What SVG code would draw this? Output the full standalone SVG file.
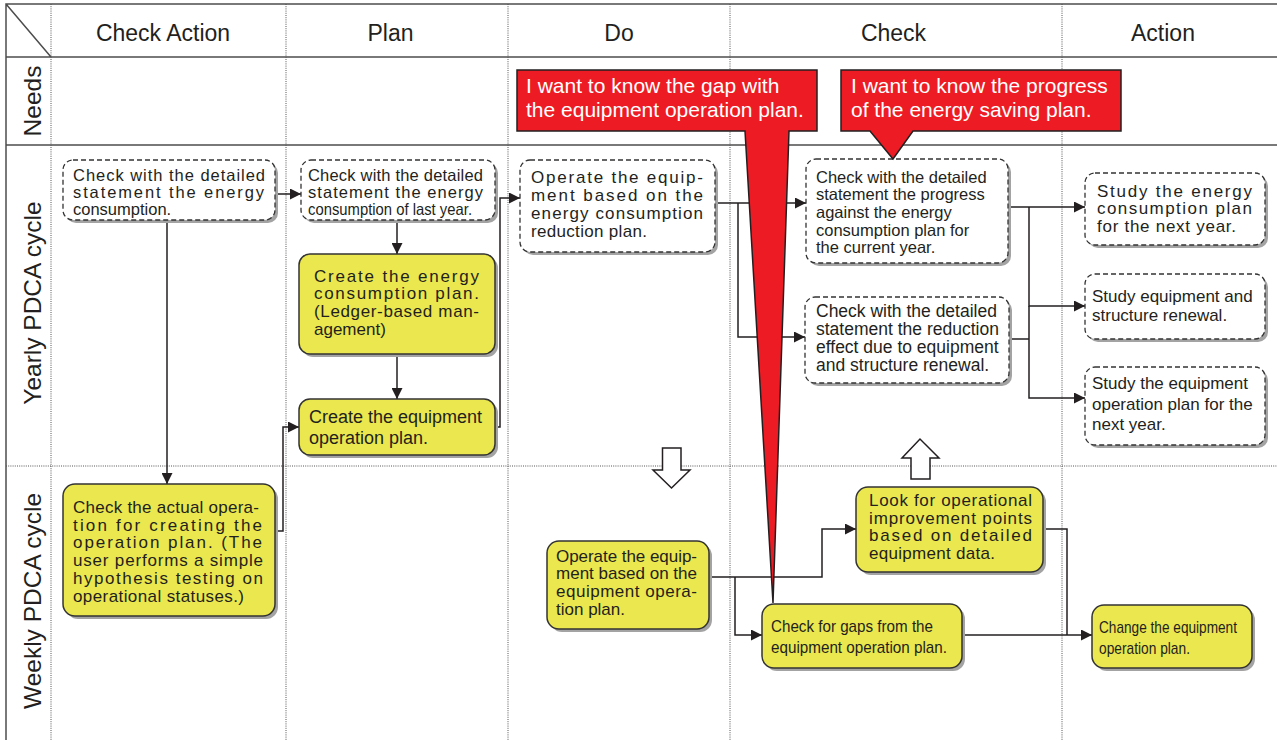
<svg xmlns="http://www.w3.org/2000/svg" width="1277" height="740" viewBox="0 0 1277 740">
<defs>
<style>
.bg{fill:#fff}
.gl{stroke:#4d4d4d;stroke-width:1.5;fill:none}
.gd{stroke:#555;stroke-width:1;stroke-dasharray:1 1.2;fill:none}
.hd{font-family:"Liberation Sans",Arial,sans-serif;font-size:23px;fill:#231f20;text-anchor:middle}
.rl{font-family:"Liberation Sans",Arial,sans-serif;font-size:24.5px;fill:#231f20;text-anchor:middle}
.t{font-family:"Liberation Sans",Arial,sans-serif;font-size:17px;fill:#231f20}
.ts{font-family:"Liberation Sans",Arial,sans-serif;font-size:16px;fill:#231f20}
.t16{font-family:"Liberation Sans",Arial,sans-serif;font-size:16.5px;fill:#231f20}
.t175{font-family:"Liberation Sans",Arial,sans-serif;font-size:17.5px;fill:#231f20}
.t18{font-family:"Liberation Sans",Arial,sans-serif;font-size:18px;fill:#231f20}
.ct{font-family:"Liberation Sans",Arial,sans-serif;font-size:21px;fill:#fff}
.sh{fill:#a3a3a3}
.dn{fill:#fff;stroke:#333;stroke-width:1.3;stroke-dasharray:5 3}
.yn{fill:#ebe74e;stroke:#333;stroke-width:1.5}
.c{fill:none;stroke:#231f20;stroke-width:1.5}
.ba{fill:#fff;stroke:#231f20;stroke-width:1.5}
.co{fill:#ed1c24;stroke:#231f20;stroke-width:1.5;stroke-linejoin:miter}
</style>
<marker id="ah" markerWidth="11" markerHeight="11" refX="11" refY="5.5" orient="auto" markerUnits="userSpaceOnUse">
<path d="M0,0 L11,5.5 L0,11 Z" fill="#231f20"/>
</marker>
</defs>
<rect class="bg" x="0" y="0" width="1277" height="740"/>
<g id="grid">
<path class="gd" d="M51,4 V740 M286,4 V740 M508,4 V740 M730,4 V740 M1062,4 V740 M6,466 H1277"/>
<path class="gl" d="M1277,4 H6 V740 M6,57 H1277 M6,145 H1277 M6,4 L51,57"/>
<text class="hd" x="163" y="41">Check Action</text>
<text class="hd" x="390.5" y="41">Plan</text>
<text class="hd" x="619" y="41">Do</text>
<text class="hd" x="893.5" y="41">Check</text>
<text class="hd" x="1163" y="41">Action</text>
<text class="rl" transform="translate(41,101) rotate(-90)">Needs</text>
<text class="rl" transform="translate(41,303) rotate(-90)">Yearly PDCA cycle</text>
<text class="rl" transform="translate(41,601) rotate(-90)">Weekly PDCA cycle</text>
</g>
<g id="connectors">
<path class="c" d="M275,194 H301" marker-end="url(#ah)"/>
<path class="c" d="M167,220 V484" marker-end="url(#ah)"/>
<path class="c" d="M397,220 V254" marker-end="url(#ah)"/>
<path class="c" d="M397,354 V399" marker-end="url(#ah)"/>
<path class="c" d="M495,427 H500 V198 H520" marker-end="url(#ah)"/>
<path class="c" d="M275,531 H283 V427 H299" marker-end="url(#ah)"/>
<path class="c" d="M715,203 H806" marker-end="url(#ah)"/>
<path class="c" d="M738,203 V337 H805" marker-end="url(#ah)"/>
<path class="c" d="M1008,207 H1085" marker-end="url(#ah)"/>
<path class="c" d="M1029,207 V306 H1085" marker-end="url(#ah)"/>
<path class="c" d="M1029,306 V398 H1085" marker-end="url(#ah)"/>
<path class="c" d="M1009,339 H1029"/>
<path class="c" d="M709,577 H822 V529 H856" marker-end="url(#ah)"/>
<path class="c" d="M735,577 V635 H762" marker-end="url(#ah)"/>
<path class="c" d="M962,635 H1092" marker-end="url(#ah)"/>
<path class="c" d="M1043,529 H1067 V635"/>
</g>
<g id="blockArrows">
<path class="ba" d="M662.5,448 H681 V470 H690 L671.5,488 L653,470 H662.5 Z"/>
<path class="ba" d="M911,479 V458 H902 L920,439 L939,458 H930 V479 Z"/>
</g>
<g id="nodeA">
<rect class="sh" x="66" y="163" width="212" height="60" rx="10"/>
<rect class="dn" x="63" y="160" width="212" height="60" rx="10"/>
<text class="t16" x="73" y="181" textLength="192" lengthAdjust="spacing">Check with the detailed</text>
<text class="t16" x="73" y="198" textLength="191" lengthAdjust="spacing">statement the energy</text>
<text class="t16" x="73" y="215">consumption.</text>
</g>
<g id="nodeB">
<rect class="sh" x="304" y="163" width="194" height="60" rx="10"/>
<rect class="dn" x="301" y="160" width="194" height="60" rx="10"/>
<text class="t16" x="308" y="181" textLength="175" lengthAdjust="spacing">Check with the detailed</text>
<text class="t16" x="308" y="198" textLength="175" lengthAdjust="spacing">statement the energy</text>
<text class="t16" x="308" y="215" textLength="164" lengthAdjust="spacingAndGlyphs">consumption of last year.</text>
</g>
<g id="nodeC">
<rect class="sh" x="302" y="257" width="196" height="100" rx="11"/>
<rect class="yn" x="299" y="254" width="196" height="100" rx="11"/>
<text class="t" x="314" y="282" textLength="165" lengthAdjust="spacing">Create the energy</text>
<text class="t" x="314" y="299" textLength="165" lengthAdjust="spacing">consumption plan.</text>
<text class="t" x="314" y="317" textLength="165" lengthAdjust="spacing">(Ledger-based man-</text>
<text class="t" x="314" y="335">agement)</text>
</g>
<g id="nodeD">
<rect class="sh" x="302" y="402" width="196" height="56" rx="11"/>
<rect class="yn" x="299" y="399" width="196" height="56" rx="11"/>
<text class="t18" x="309" y="423" textLength="173" lengthAdjust="spacing">Create the equipment</text>
<text class="t18" x="309" y="444">operation plan.</text>
</g>
<g id="nodeE">
<rect class="sh" x="523" y="163" width="195" height="92" rx="10"/>
<rect class="dn" x="520" y="160" width="195" height="92" rx="10"/>
<text class="t" x="531" y="183" textLength="172" lengthAdjust="spacing">Operate the equip-</text>
<text class="t" x="531" y="201" textLength="172" lengthAdjust="spacing">ment based on the</text>
<text class="t" x="531" y="219" textLength="172" lengthAdjust="spacing">energy consumption</text>
<text class="t" x="531" y="237" textLength="116" lengthAdjust="spacing">reduction plan.</text>
</g>
<g id="nodeF">
<rect class="sh" x="809" y="162" width="202" height="104" rx="10"/>
<rect class="dn" x="806" y="159" width="202" height="104" rx="10"/>
<text class="t16" x="816" y="183">Check with the detailed</text>
<text class="t16" x="816" y="200">statement the progress</text>
<text class="t16" x="816" y="218">against the energy</text>
<text class="t16" x="816" y="235.5">consumption plan for</text>
<text class="t16" x="816" y="253">the current year.</text>
</g>
<g id="nodeG">
<rect class="sh" x="808" y="300" width="204" height="86" rx="10"/>
<rect class="dn" x="805" y="297" width="204" height="86" rx="10"/>
<text class="t175" x="816" y="317">Check with the detailed</text>
<text class="t175" x="816" y="335">statement the reduction</text>
<text class="t175" x="816" y="353">effect due to equipment</text>
<text class="t175" x="816" y="371">and structure renewal.</text>
</g>
<g id="nodeH">
<rect class="sh" x="1088" y="176" width="180" height="72" rx="10"/>
<rect class="dn" x="1085" y="173" width="180" height="72" rx="10"/>
<text class="t" x="1097" y="197" textLength="155" lengthAdjust="spacing">Study the energy</text>
<text class="t" x="1097" y="214" textLength="155" lengthAdjust="spacing">consumption plan</text>
<text class="t" x="1097" y="232" textLength="139" lengthAdjust="spacing">for the next year.</text>
</g>
<g id="nodeI">
<rect class="sh" x="1088" y="277" width="180" height="65" rx="10"/>
<rect class="dn" x="1085" y="274" width="180" height="65" rx="10"/>
<text class="t" x="1092" y="302">Study equipment and</text>
<text class="t" x="1092" y="321">structure renewal.</text>
</g>
<g id="nodeJ">
<rect class="sh" x="1088" y="370" width="180" height="78" rx="10"/>
<rect class="dn" x="1085" y="367" width="180" height="78" rx="10"/>
<text class="t" x="1092" y="389">Study the equipment</text>
<text class="t" x="1092" y="410">operation plan for the</text>
<text class="t" x="1092" y="430">next year.</text>
</g>
<g id="nodeK">
<rect class="sh" x="66" y="487" width="212" height="132" rx="12"/>
<rect class="yn" x="63" y="484" width="212" height="132" rx="12"/>
<text class="t" x="73" y="513" textLength="186" lengthAdjust="spacing">Check the actual opera-</text>
<text class="t" x="73" y="531" textLength="189" lengthAdjust="spacing">tion for creating the</text>
<text class="t" x="73" y="548" textLength="189" lengthAdjust="spacing">operation plan. (The</text>
<text class="t" x="73" y="566" textLength="190" lengthAdjust="spacing">user performs a simple</text>
<text class="t" x="73" y="584" textLength="190" lengthAdjust="spacing">hypothesis testing on</text>
<text class="t" x="73" y="602" textLength="171" lengthAdjust="spacing">operational statuses.)</text>
</g>
<g id="nodeL">
<rect class="sh" x="550" y="544" width="162" height="88" rx="12"/>
<rect class="yn" x="547" y="541" width="162" height="88" rx="12"/>
<text class="t" x="556" y="562" textLength="141" lengthAdjust="spacing">Operate the equip-</text>
<text class="t" x="556" y="579" textLength="141" lengthAdjust="spacing">ment based on the</text>
<text class="t" x="556" y="597" textLength="141" lengthAdjust="spacing">equipment opera-</text>
<text class="t" x="556" y="615">tion plan.</text>
</g>
<g id="nodeM">
<rect class="sh" x="859" y="490" width="187" height="85" rx="12"/>
<rect class="yn" x="856" y="487" width="187" height="85" rx="12"/>
<text class="t" x="869" y="506" textLength="163" lengthAdjust="spacing">Look for operational</text>
<text class="t" x="869" y="524" textLength="163" lengthAdjust="spacing">improvement points</text>
<text class="t" x="869" y="541" textLength="163" lengthAdjust="spacing">based on detailed</text>
<text class="t" x="869" y="559" textLength="126" lengthAdjust="spacing">equipment data.</text>
</g>
<g id="nodeN">
<rect class="sh" x="765" y="607" width="200" height="64" rx="12"/>
<rect class="yn" x="762" y="604" width="200" height="64" rx="12"/>
<text class="t" x="771" y="632" textLength="162" lengthAdjust="spacingAndGlyphs">Check for gaps from the</text>
<text class="t" x="771" y="653" textLength="176" lengthAdjust="spacingAndGlyphs">equipment operation plan.</text>
</g>
<g id="nodeO">
<rect class="sh" x="1095" y="608" width="160" height="63" rx="12"/>
<rect class="yn" x="1092" y="605" width="160" height="63" rx="12"/>
<text class="t" x="1099" y="633" textLength="138" lengthAdjust="spacingAndGlyphs">Change the equipment</text>
<text class="t" x="1099" y="654" textLength="91" lengthAdjust="spacingAndGlyphs">operation plan.</text>
</g>
<g id="callout1">
<path class="co" d="M517,70 H817 V131 H789 L773,603 L745,131 H517 Z"/>
<text class="ct" x="526" y="93">I want to know the gap with</text>
<text class="ct" x="526" y="117">the equipment operation plan.</text>
</g>
<g id="callout2">
<path class="co" d="M841,70 H1121 V131 H913 L893,159 L870,131 H841 Z"/>
<text class="ct" x="851" y="93">I want to know the progress</text>
<text class="ct" x="851" y="117">of the energy saving plan.</text>
</g>
</svg>
